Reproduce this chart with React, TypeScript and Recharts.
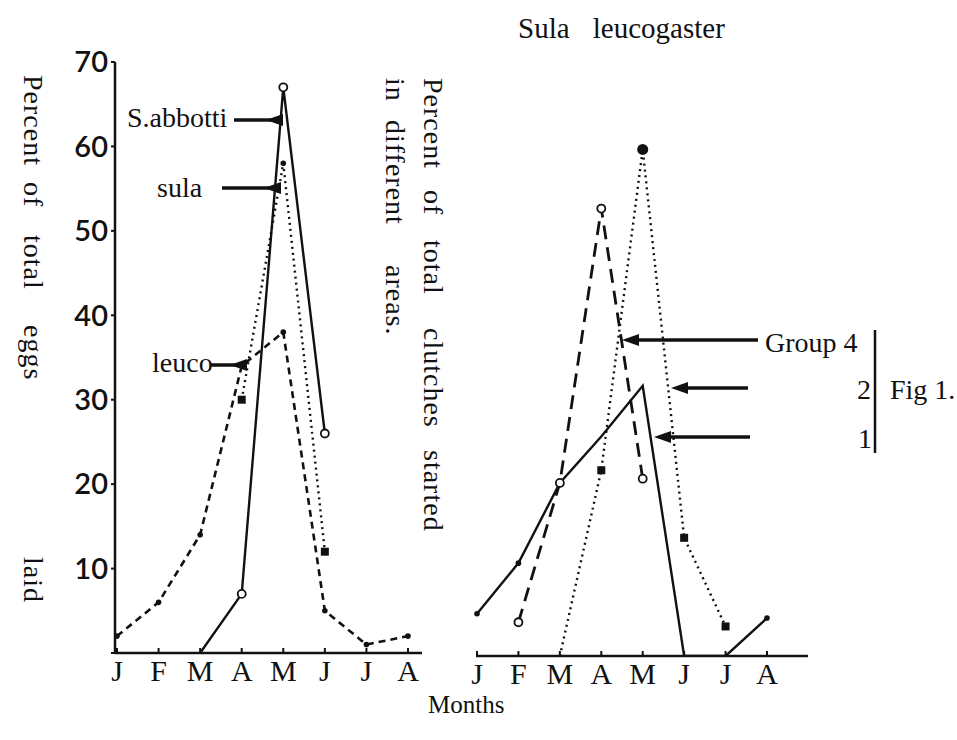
import React from "react"
import { LineChart, Line, XAxis, YAxis } from "recharts"

// month letters along both x axes
const months = ["J", "F", "M", "A", "M", "J", "J", "A"]
const yTicks = [0, 10, 20, 30, 40, 50, 60, 70]

// left panel: percent of total eggs laid
const leuco = [2, 6, 14, 34, 38, 5, 1, 2]
const sula = [null, null, null, 30, 58, 12, null, null]
const abbotti = [null, null, 0, 7, 67, 26, null, null]

// right panel: Sula leucogaster, percent of total clutches started
const group4 = [null, 4, 20.5, 53, 21, null, null, null]
const group2 = [null, null, 0, 22, 60, 14, 3.5, null]
const group1 = [5, 11, 20.5, 26, 32, 0, 0, 4.5]

// marker kind per point
const leucoMarks = ["dot", "dot", "dot", "", "dot", "dot", "dot", "dot"]
const sulaMarks = ["", "", "", "square", "dot", "square", "", ""]
const abbottiMarks = ["", "", "", "circle", "circle", "circle", "", ""]
const group4Marks = ["", "circle", "circle", "circle", "circle", "", "", ""]
const group2Marks = ["", "", "", "square", "bigdot", "square", "square", ""]
const group1Marks = ["dot", "dot", "", "", "", "", "", "dot"]

const leftData = months.map((m, i) => ({ i, leuco: leuco[i], sula: sula[i], abbotti: abbotti[i] }))
const rightData = months.map((m, i) => ({ i, g4: group4[i], g2: group2[i], g1: group1[i] }))

const SERIF = "'Liberation Serif', 'DejaVu Serif', serif"
const INK = "#111"

const marker = (kinds: string[]) => (props: any) => {
  const { cx, cy, index } = props
  const kind = kinds[index]
  if (cx == null || cy == null || !kind) return <g key={`m${index}`} />
  if (kind === "circle")
    return <circle key={`m${index}`} cx={cx} cy={cy} r={4} fill="#fff" stroke={INK} strokeWidth={1.8} />
  if (kind === "square")
    return <rect key={`m${index}`} x={cx - 4} y={cy - 4} width={8} height={8} fill={INK} />
  if (kind === "bigdot") return <circle key={`m${index}`} cx={cx} cy={cy} r={5.5} fill={INK} />
  return <circle key={`m${index}`} cx={cx} cy={cy} r={2.8} fill={INK} />
}

const MonthTick = ({ x, y, payload }: any) => (
  <g>
    <line x1={x} x2={x} y1={y - 5} y2={y} stroke={INK} strokeWidth={2} />
    <text x={x} y={y + 28} textAnchor="middle" fontFamily={SERIF} fontSize={30} fill={INK}>
      {months[payload.value]}
    </text>
  </g>
)

const Arrow = ({ x1, x2, y }: { x1: number; x2: number; y: number }) => (
  <g>
    <line x1={x1} x2={x2 + 12} y1={y} y2={y} stroke={INK} strokeWidth={3.5} />
    <polygon points={`${x2},${y} ${x2 + 17},${y - 6} ${x2 + 17},${y + 6}`} fill={INK} />
  </g>
)

const Vertical = ({ x, y, words, size = 28 }: { x: number; y: number[]; words: string[]; size?: number }) => (
  <g>
    {words.map((w, k) => (
      <text
        key={w + k}
        x={x}
        y={y[k]}
        transform={`rotate(90 ${x} ${y[k]})`}
        fontFamily={SERIF}
        fontSize={size}
        fill={INK}
        letterSpacing={1}
      >
        {w}
      </text>
    ))}
  </g>
)

export default function App() {
  return (
    <div style={{ position: "absolute", left: 0, top: 0, width: 957, height: 740, background: "#fff" }}>
      <div style={{ position: "absolute", left: 0, top: 0 }}>
        <LineChart width={440} height={700} data={leftData} margin={{ top: 62, right: 18, left: 0, bottom: 0 }}>
          <XAxis
            dataKey="i"
            type="category"
            interval={0}
            height={47}
            padding={{ left: 2, right: 14 }}
            axisLine={{ stroke: INK, strokeWidth: 2.5 }}
            tickLine={false}
            tickSize={0}
            tickMargin={0}
            tick={<MonthTick />}
          />
          <YAxis
            width={115}
            domain={[0, 70]}
            ticks={yTicks}
            interval={0}
            allowDataOverflow
            axisLine={{ stroke: INK, strokeWidth: 2.5 }}
            tickLine={{ stroke: INK, strokeWidth: 2 }}
            tickSize={4}
            tickMargin={3}
            tickFormatter={(v: number) => (v === 0 ? "" : String(v))}
            tick={{ fontFamily: "Lato, 'Open Sans', sans-serif", fontSize: 29, fontWeight: 600, fill: INK }}
          />
          <Line
            dataKey="leuco"
            type="linear"
            stroke={INK}
            strokeWidth={2.6}
            strokeDasharray="7 5"
            dot={marker(leucoMarks)}
            activeDot={false}
            isAnimationActive={false}
          />
          <Line
            dataKey="sula"
            type="linear"
            stroke={INK}
            strokeWidth={2.4}
            strokeDasharray="2 4"
            dot={marker(sulaMarks)}
            activeDot={false}
            isAnimationActive={false}
          />
          <Line
            dataKey="abbotti"
            type="linear"
            stroke={INK}
            strokeWidth={2.4}
            dot={marker(abbottiMarks)}
            activeDot={false}
            isAnimationActive={false}
          />
        </LineChart>
      </div>

      <div style={{ position: "absolute", left: 460, top: 3 }}>
        <LineChart width={370} height={700} data={rightData} margin={{ top: 62, right: 22, left: 16, bottom: 0 }}>
          <XAxis
            dataKey="i"
            type="category"
            interval={0}
            height={47}
            padding={{ left: 1, right: 41 }}
            axisLine={{ stroke: INK, strokeWidth: 2.5 }}
            tickLine={false}
            tickSize={0}
            tickMargin={0}
            tick={<MonthTick />}
          />
          <YAxis hide width={0} domain={[0, 70]} allowDataOverflow />
          <Line
            dataKey="g4"
            type="linear"
            stroke={INK}
            strokeWidth={2.8}
            strokeDasharray="14 8"
            dot={marker(group4Marks)}
            activeDot={false}
            isAnimationActive={false}
          />
          <Line
            dataKey="g2"
            type="linear"
            stroke={INK}
            strokeWidth={2.4}
            strokeDasharray="2 4"
            dot={marker(group2Marks)}
            activeDot={false}
            isAnimationActive={false}
          />
          <Line
            dataKey="g1"
            type="linear"
            stroke={INK}
            strokeWidth={2.4}
            dot={marker(group1Marks)}
            activeDot={false}
            isAnimationActive={false}
          />
        </LineChart>
      </div>

      <svg width={957} height={740} style={{ position: "absolute", left: 0, top: 0, pointerEvents: "none" }}>
        {/* titles and axis captions */}
        <text x={518} y={38} fontFamily={SERIF} fontSize={29} fill={INK} wordSpacing={16}>
          Sula leucogaster
        </text>
        <text x={428} y={713} fontFamily={SERIF} fontSize={25} fill={INK}>
          Months
        </text>
        <Vertical x={24} y={[75, 182, 235, 325, 557]} words={["Percent", "of", "total", "eggs", "laid"]} />
        <Vertical
          x={424}
          y={[78, 190, 240, 328, 450]}
          words={["Percent", "of", "total", "clutches", "started"]}
        />
        <Vertical x={386} y={[78, 120, 265]} words={["in", "different", "areas."]} />

        {/* left panel labels */}
        <text x={127} y={127} fontFamily={SERIF} fontSize={28} fill={INK}>
          S.abbotti
        </text>
        <Arrow x1={234} x2={266} y={120} />
        <text x={157} y={197} fontFamily={SERIF} fontSize={28} fill={INK}>
          sula
        </text>
        <Arrow x1={222} x2={264} y={188} />
        <text x={152} y={372} fontFamily={SERIF} fontSize={28} fill={INK}>
          leuco
        </text>
        <Arrow x1={210} x2={230} y={365} />

        {/* right panel group labels */}
        <Arrow x1={758} x2={622} y={340} />
        <Arrow x1={748} x2={671} y={388} />
        <Arrow x1={750} x2={654} y={437} />
        <text x={765} y={352} fontFamily={SERIF} fontSize={28} fill={INK}>
          Group 4
        </text>
        <text x={857} y={399} fontFamily={SERIF} fontSize={28} fill={INK}>
          2
        </text>
        <text x={858} y={448} fontFamily={SERIF} fontSize={28} fill={INK}>
          1
        </text>
        <line x1={875} x2={875} y1={330} y2={453} stroke={INK} strokeWidth={2.5} />
        <text x={890} y={399} fontFamily={SERIF} fontSize={28} fill={INK}>
          Fig 1.
        </text>
      </svg>
    </div>
  )
}
